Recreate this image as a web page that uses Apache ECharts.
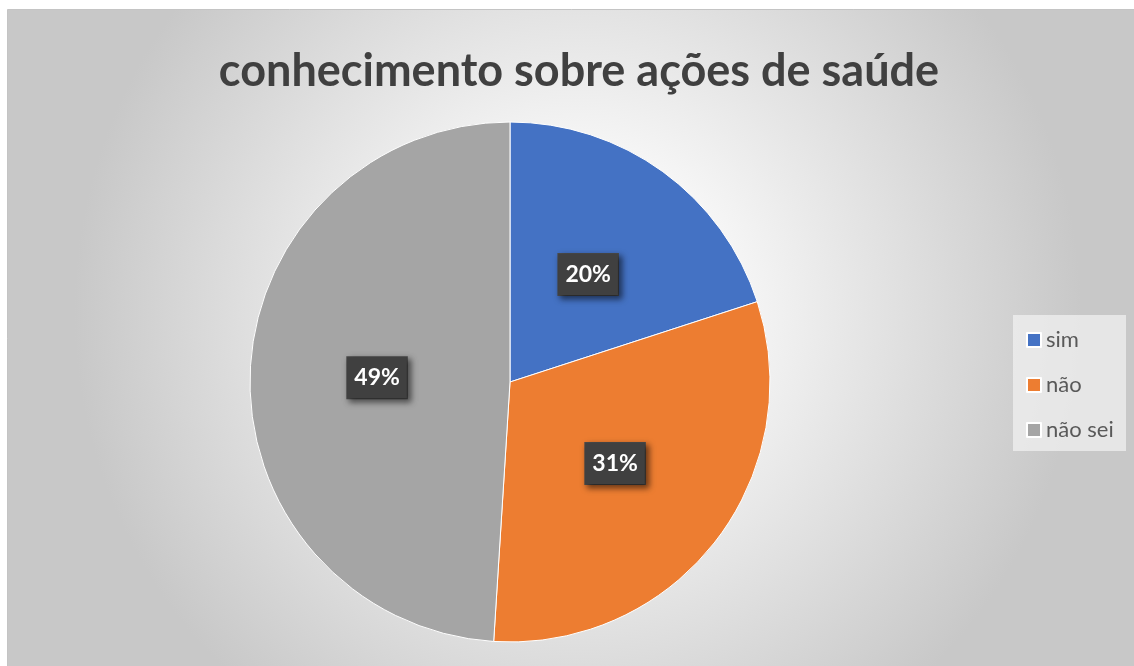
<!DOCTYPE html>
<html>
<head>
<meta charset="utf-8">
<style>
  html, body { margin: 0; padding: 0; background: #fff; }
  #chart { width: 1134px; height: 666px; }
</style>
<script src="https://cdn.jsdelivr.net/npm/echarts@6/dist/echarts.min.js"></script>
</head>
<body>
<div id="chart"></div>
<script>
  // 数据
  const categories = ['sim', 'não', 'não sei']
  const values = [20, 31, 49]
  const colors = ['#4472C4', '#ED7D31', '#A5A5A5']
  const titleText = 'conhecimento sobre ações de saúde'

  const chart = echarts.init(document.getElementById('chart'))

  chart.setOption({
    backgroundColor: '#ffffff',
    animation: false,
    // 背景框
    graphic: [{
      type: 'rect',
      z: -10,
      shape: { x: 7.5, y: 9.5, width: 1140, height: 670 },
      style: {
        fill: {
          type: 'radial', x: 0.5, y: 0.45, r: 0.75,
          colorStops: [
            { offset: 0, color: '#ffffff' },
            { offset: 0.3, color: '#f7f7f7' },
            { offset: 1, color: '#c8c8c8' }
          ]
        },
        stroke: '#c4c4c4',
        lineWidth: 1
      }
    }, {
      // 图例背景
      type: 'rect',
      z: -5,
      shape: { x: 1013, y: 315, width: 113, height: 136 },
      style: { fill: 'rgba(240,240,240,0.75)' }
    }],
    title: {
      text: titleText,
      left: 574,
      textAlign: 'center',
      top: 44,
      textStyle: {
        fontFamily: 'Lato',
        fontWeight: 'bold',
        fontSize: 45,
        color: '#404040'
      }
    },
    legend: {
      orient: 'vertical',
      left: 1026,
      top: 329,
      padding: 0,
      itemGap: 23,
      itemWidth: 14,
      itemHeight: 14,
      icon: 'rect',
      data: categories,
      textStyle: {
        fontFamily: 'Lato',
        fontSize: 22,
        color: '#595959',
        padding: [7, 0, 0, 0]
      }
    },
    series: [{
      type: 'pie',
      center: [510, 382],
      radius: 260,
      startAngle: 90,
      clockwise: true,
      data: categories.map((name, i) => ({
        name: name,
        value: values[i],
        itemStyle: { color: colors[i] }
      })),
      itemStyle: { borderColor: '#ffffff', borderWidth: 1 },
      label: {
        show: true,
        position: 'inside',
        formatter: '{c}%',
        fontFamily: 'Lato',
        fontWeight: 'bold',
        fontSize: 23,
        color: '#ffffff',
        backgroundColor: '#404040',
        borderColor: '#4a4a4a',
        borderWidth: 1,
        padding: [10, 7, 8, 7],
        shadowColor: 'rgba(0,0,0,0.55)',
        shadowBlur: 6,
        shadowOffsetX: 3,
        shadowOffsetY: 3
      },
      labelLine: { show: false },
      emphasis: { disabled: true }
    }]
  })
</script>
</body>
</html>
